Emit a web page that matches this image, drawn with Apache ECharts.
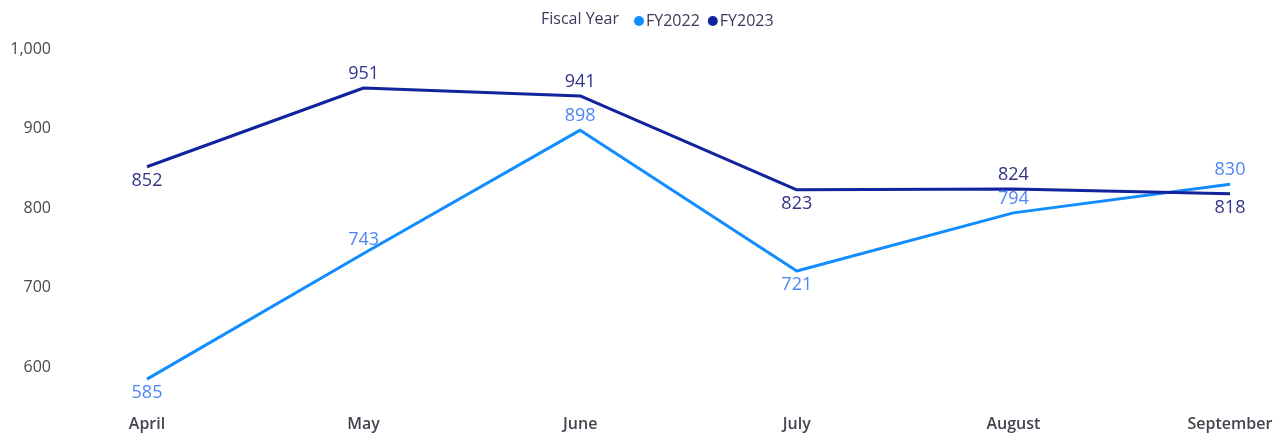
<!DOCTYPE html>
<html>
<head>
<meta charset="utf-8">
<script src="https://cdn.jsdelivr.net/npm/echarts@6/dist/echarts.min.js"></script>
<style>
  html, body { margin: 0; padding: 0; background: #fff; }
  #chart { width: 1286px; height: 438px; }
</style>
</head>
<body>
<div id="chart"></div>
<script>
// data
const months = ['April', 'May', 'June', 'July', 'August', 'September'];
const fy2022 = [585, 743, 898, 721, 794, 830];
const fy2023 = [852, 951, 941, 823, 824, 818];

// label placement per point (above / below the line)
const pos2022 = ['bottom', 'top', 'top', 'bottom', 'top', 'top'];
const pos2023 = ['bottom', 'top', 'top', 'bottom', 'top', 'bottom'];

const font = '"Open Sans", "Noto Sans", sans-serif';

function withLabels(values, positions) {
  return values.map((v, i) => ({ value: v, label: { position: positions[i] } }));
}

let chart = echarts.init(document.getElementById('chart'));
chart.setOption({
  animation: false,
  color: ['#118dff', '#12239e'],
  title: {
    text: 'Fiscal Year',
    left: 536,
    top: 6,
    textStyle: { fontFamily: font, fontSize: 16, fontWeight: 500, color: '#3b3a5a' }
  },
  legend: {
    left: 629,
    top: 8,
    icon: 'circle',
    itemWidth: 10,
    itemHeight: 10,
    itemGap: 8,
    textStyle: { fontFamily: font, fontSize: 16, fontWeight: 500, color: '#3b3a5a', padding: [0, 0, 0, -3] }
  },
  grid: { left: 147, right: 56, top: 49, bottom: 31 },
  xAxis: {
    type: 'category',
    data: months,
    boundaryGap: false,
    axisLine: { show: false },
    axisTick: { show: false },
    axisLabel: { fontFamily: font, fontSize: 16, fontWeight: 600, color: '#45434f', margin: 9 }
  },
  yAxis: {
    type: 'value',
    min: 550,
    max: 1000,
    interval: 50,
    splitLine: { show: false },
    axisLabel: {
      fontFamily: font,
      fontSize: 16,
      color: '#4a4848',
      margin: 96,
      formatter: v => (v % 100 === 0 ? v.toLocaleString('en-US') : '')
    }
  },
  series: [
    {
      name: 'FY2022',
      type: 'line',
      data: withLabels(fy2022, pos2022),
      symbol: 'circle',
      symbolSize: 0.1,
      lineStyle: { width: 3, color: '#118dff' },
      label: { show: true, fontFamily: font, fontSize: 18, color: '#4f86f7', distance: 5 }
    },
    {
      name: 'FY2023',
      type: 'line',
      data: withLabels(fy2023, pos2023),
      symbol: 'circle',
      symbolSize: 0.1,
      lineStyle: { width: 3, color: '#12239e' },
      label: { show: true, fontFamily: font, fontSize: 18, color: '#333388', distance: 5 }
    }
  ]
});
</script>
</body>
</html>
